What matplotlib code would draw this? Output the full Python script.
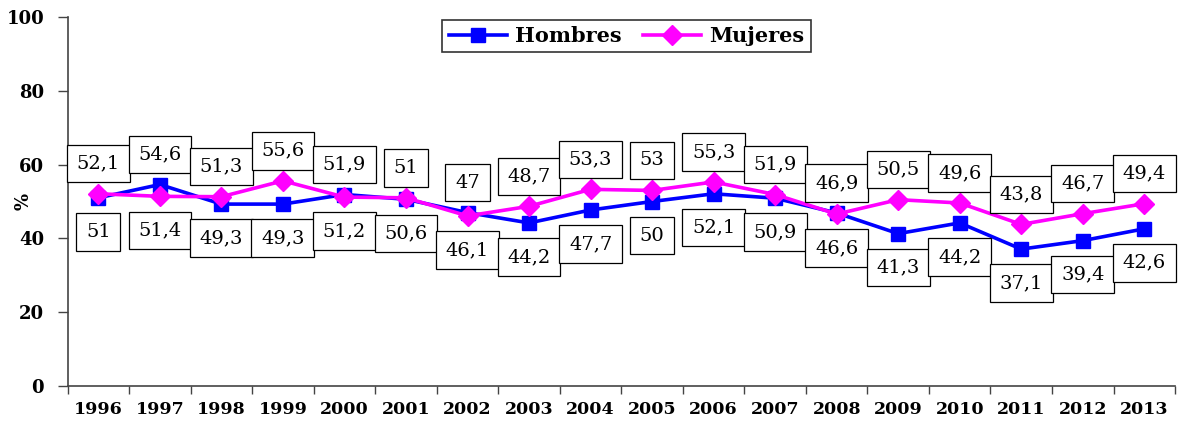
import matplotlib
matplotlib.use("Agg")
import matplotlib.pyplot as plt
import numpy as np

years = ["1996", "1997", "1998", "1999", "2000", "2001", "2002", "2003", "2004",
         "2005", "2006", "2007", "2008", "2009", "2010", "2011", "2012", "2013"]
hombres = [51, 54.6, 49.3, 49.3, 51.9, 50.6, 47, 44.2, 47.7,
           50, 52.1, 50.9, 46.9, 41.3, 44.2, 37.1, 39.4, 42.6]
mujeres = [52.1, 51.4, 51.3, 55.6, 51.2, 51, 46.1, 48.7, 53.3,
           53, 55.3, 51.9, 46.6, 50.5, 49.6, 43.8, 46.7, 49.4]
yticks = [0, 20, 40, 60, 80, 100]

fig = plt.figure(figsize=(11.8, 4.21), dpi=100)
ax = fig.add_axes([0.0573, 0.0831, 0.9385, 0.8765])

x = np.arange(len(years))
ax.plot(x, hombres, color="#0000FF", lw=2.6, marker="s", ms=10, label="Hombres", zorder=3)
ax.plot(x, mujeres, color="#FF00FF", lw=2.6, marker="D", ms=10, label="Mujeres", zorder=3)

def fmt(v):
    s = ("%.1f" % v).rstrip("0").rstrip(".")
    return s.replace(".", ",")

bbox = dict(boxstyle="square,pad=0.5", fc="white", ec="black", lw=0.9)
for i in range(len(years)):
    for v, other in ((hombres[i], mujeres[i]), (mujeres[i], hombres[i])):
        above = v >= other
        ax.annotate(fmt(v), (x[i], v), xytext=(0, 30 if above else -34),
                    textcoords="offset pixels", ha="center", va="center",
                    fontsize=14, family="DejaVu Serif", bbox=bbox, zorder=4)

ax.set_xlim(-0.5, len(years) - 0.5)
ax.set_ylim(0, 100)
ax.set_yticks(yticks)
ax.set_yticklabels([str(t) for t in yticks], fontsize=13, fontweight="bold", family="DejaVu Serif")
ax.set_xticks(x)
ax.set_xticklabels(years, fontsize=12.5, fontweight="bold", family="DejaVu Serif")
ax.set_xticks(np.arange(len(years) + 1) - 0.5, minor=True)
ax.tick_params(axis="x", which="major", length=0, pad=11)
ax.tick_params(axis="x", which="minor", length=6, width=1, color="#444444")
ax.tick_params(axis="y", length=7, width=1, color="#444444", pad=10)
for s in ("top", "right"):
    ax.spines[s].set_visible(False)
for s in ("left", "bottom"):
    ax.spines[s].set_color("#444444")
    ax.spines[s].set_linewidth(1.2)

ax.set_ylabel("%", fontsize=13, fontweight="bold", family="DejaVu Serif")
ax.yaxis.set_label_coords(-0.032, 0.5)

leg = fig.legend(loc="upper center", bbox_to_anchor=(0.531, 0.978), ncol=2,
                 prop=dict(family="DejaVu Serif", weight="bold", size=15),
                 frameon=True, fancybox=False, edgecolor="black",
                 handlelength=2.8, columnspacing=1.0, borderpad=0.3, handletextpad=0.4)
leg.get_frame().set_linewidth(1.2)

fig.savefig("out.png", dpi=100)
